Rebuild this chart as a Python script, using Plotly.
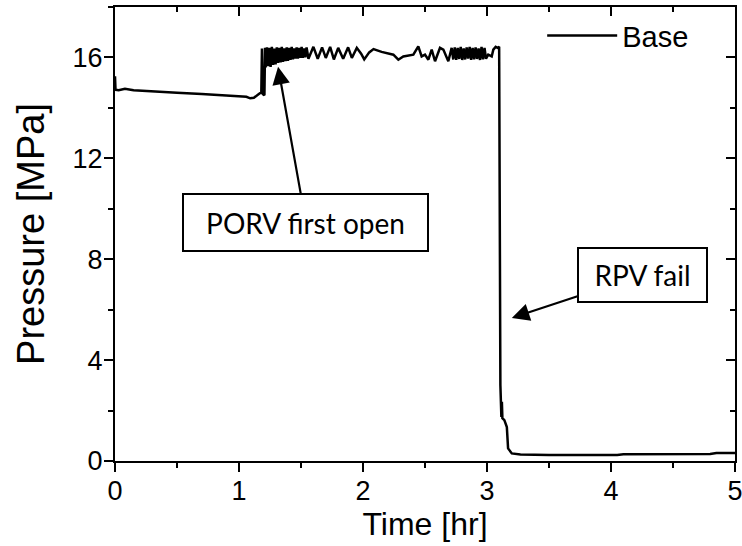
import plotly.graph_objects as go

# ---- data ----
time_hr = [
    0.0, 0.004, 0.03, 0.08, 0.15, 0.3, 0.5, 0.7, 0.9, 1.0, 1.06, 1.09, 1.12, 1.16, 1.18,
    1.185, 1.192, 1.205, 1.21,
    1.215, 1.225, 1.235, 1.245, 1.255, 1.265, 1.275, 1.285, 1.295, 1.305, 1.315, 1.325,
    1.335, 1.345, 1.355, 1.365, 1.375, 1.385, 1.395, 1.405, 1.415, 1.425, 1.435, 1.445,
    1.455, 1.465, 1.475, 1.485, 1.495, 1.505, 1.515, 1.525, 1.535, 1.545,
    1.56, 1.60, 1.635, 1.67, 1.70, 1.735, 1.765, 1.80, 1.84, 1.88, 1.91, 1.95,
    1.985, 2.01, 2.05, 2.085, 2.15, 2.245, 2.285, 2.325, 2.406, 2.446, 2.473, 2.5,
    2.527, 2.554, 2.581, 2.621, 2.648, 2.688, 2.715,
    2.728, 2.740, 2.752, 2.764, 2.776, 2.788, 2.800, 2.812, 2.824, 2.836, 2.848, 2.860,
    2.872, 2.884, 2.896, 2.908, 2.920, 2.932, 2.944, 2.956, 2.968, 2.980, 2.992,
    3.01, 3.038, 3.051, 3.07, 3.085, 3.098,
    3.108, 3.112, 3.116, 3.120, 3.124, 3.140, 3.160, 3.170, 3.200, 3.270, 3.500,
    4.050, 4.100, 4.800, 4.850, 5.000,
]
pressure_mpa = [
    15.25, 14.72, 14.70, 14.76, 14.70, 14.65, 14.60, 14.55, 14.50, 14.47, 14.44, 14.38, 14.40, 14.55, 14.62,
    16.35, 14.55, 14.50, 16.38,
    15.60, 16.40, 15.65, 16.38, 15.62, 16.42, 15.70, 16.35, 15.72, 16.40, 15.78, 16.38,
    15.80, 16.42, 15.82, 16.36, 15.85, 16.40, 15.86, 16.38, 15.90, 16.42, 15.92, 16.36,
    15.95, 16.40, 15.95, 16.38, 15.98, 16.42, 15.98, 16.36, 16.00, 16.40,
    15.95, 16.42, 15.95, 16.40, 15.98, 16.42, 15.92, 16.38, 15.95, 16.40, 15.98, 16.38,
    16.15, 15.92, 16.20, 16.33, 16.22, 16.11, 15.91, 16.04, 16.11, 16.44, 16.04, 16.11,
    15.91, 16.31, 15.85, 16.38, 16.31, 15.85, 16.38,
    15.92, 16.40, 15.90, 16.38, 15.94, 16.42, 15.90, 16.36, 15.92, 16.40, 15.95, 16.42,
    15.90, 16.38, 15.92, 16.40, 15.94, 16.36, 15.90, 16.42, 15.92, 16.38, 15.95,
    16.11, 16.04, 16.31, 16.42, 16.38, 16.42,
    3.00, 2.45, 1.75, 2.35, 1.70, 1.62, 1.35, 0.50, 0.30, 0.26, 0.24,
    0.24, 0.27, 0.28, 0.32, 0.32,
]
series_name = "Base"
x_ticks = [0, 1, 2, 3, 4, 5]
y_ticks = [0, 4, 8, 12, 16]
porv_label = "PORV first open"
porv_point = (1.315, 15.63)
porv_box = (1.54, 9.44)
rpv_label = "RPV fail"
rpv_point = (3.20, 5.67)
rpv_box = (4.25, 7.38)

FONT = "Liberation Sans, Arial, sans-serif"
BOXFONT = "Lato, Carlito, sans-serif"

fig = go.Figure()
fig.add_trace(go.Scatter(
    x=time_hr, y=pressure_mpa, mode="lines", name=series_name,
    line=dict(color="black", width=2.5), showlegend=True,
))
# invisible trace to anchor the mirrored (inward-tick) top/right axes
fig.add_trace(go.Scatter(x=[time_hr[0]], y=[pressure_mpa[0]], xaxis="x2", yaxis="y2",
                         mode="markers", marker=dict(opacity=0), showlegend=False,
                         hoverinfo="skip"))

axis_common = dict(showgrid=False, zeroline=False, linecolor="black", linewidth=2,
                   tickcolor="black", tickwidth=2, automargin=False)

fig.update_layout(
    width=742, height=546,
    margin=dict(l=115, r=7, t=7, b=85),
    paper_bgcolor="white", plot_bgcolor="white",
    font=dict(family=FONT, color="black", size=27),
    xaxis=dict(range=[0, 5], tickvals=x_ticks, ticks="outside", ticklen=9,
               minor=dict(dtick=0.5, tick0=0, ticks="outside", ticklen=5,
                          tickwidth=2, tickcolor="black"),
               title=dict(text="Time [hr]", font=dict(size=32, family=FONT), standoff=0),
               tickfont=dict(size=27, family=FONT), ticklabeloverflow="allow",
               ticklabelstandoff=-4,
               showline=True, **axis_common),
    yaxis=dict(range=[0, 18], tickvals=y_ticks, ticks="outside", ticklen=9,
               minor=dict(dtick=2, tick0=0, ticks="outside", ticklen=5,
                          tickwidth=2, tickcolor="black"),
               title=dict(text="Pressure [MPa]", font=dict(size=38, family=FONT), standoff=16),
               tickfont=dict(size=27, family=FONT), ticklabelstandoff=-4,
               showline=True, **axis_common),
    xaxis2=dict(range=[0, 5], overlaying="x", side="top", anchor="y2",
                tickvals=x_ticks, ticks="inside", ticklen=9, showticklabels=False,
                minor=dict(dtick=0.5, tick0=0, ticks="inside", ticklen=5,
                           tickwidth=2, tickcolor="black"),
                showline=True, **axis_common),
    yaxis2=dict(range=[0, 18], overlaying="y", side="right", anchor="x2",
                tickvals=y_ticks, ticks="inside", ticklen=9, showticklabels=False,
                minor=dict(dtick=2, tick0=0, ticks="inside", ticklen=5,
                           tickwidth=2, tickcolor="black"),
                showline=True, **axis_common),
    legend=dict(x=0.689, y=0.993, xanchor="left", yanchor="top",
                bgcolor="rgba(0,0,0,0)", font=dict(size=29, family=FONT),
                itemwidth=70),
    showlegend=True,
)

fig.add_annotation(
    x=porv_point[0], y=porv_point[1], ax=porv_box[0], ay=porv_box[1],
    xref="x", yref="y", axref="x", ayref="y",
    text=porv_label, showarrow=True, arrowhead=2, arrowsize=1.6, arrowwidth=2.2,
    arrowcolor="black", bordercolor="black", borderwidth=2, borderpad=0,
    width=243, height=55, bgcolor="white",
    font=dict(family=BOXFONT, size=28, color="black"),
)
fig.add_annotation(
    x=rpv_point[0], y=rpv_point[1], ax=rpv_box[0], ay=rpv_box[1],
    xref="x", yref="y", axref="x", ayref="y",
    text=rpv_label, showarrow=True, arrowhead=2, arrowsize=1.6, arrowwidth=2.2,
    arrowcolor="black", bordercolor="black", borderwidth=2, borderpad=0,
    width=127, height=52, bgcolor="white",
    font=dict(family=BOXFONT, size=28, color="black"),
)

fig.write_html("out.html")
